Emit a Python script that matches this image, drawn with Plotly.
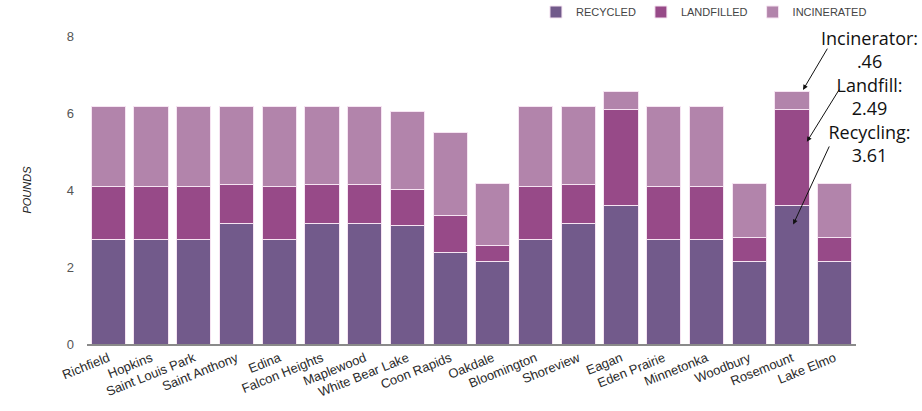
import plotly.graph_objects as go

# Municipal waste per resident per day, split by destination
cities = ["Richfield", "Hopkins", "Saint Louis Park", "Saint Anthony", "Edina",
          "Falcon Heights", "Maplewood", "White Bear Lake", "Coon Rapids", "Oakdale",
          "Bloomington", "Shoreview", "Eagan", "Eden Prairie", "Minnetonka",
          "Woodbury", "Rosemount", "Lake Elmo"]
recycled = [2.72, 2.72, 2.72, 3.13, 2.72, 3.13, 3.13, 3.08, 2.38, 2.14,
            2.72, 3.13, 3.61, 2.72, 2.72, 2.14, 3.61, 2.14]
landfilled = [1.37, 1.37, 1.37, 1.01, 1.37, 1.01, 1.01, 0.94, 0.95, 0.42,
              1.37, 1.01, 2.49, 1.37, 1.37, 0.63, 2.49, 0.63]
incinerated = [2.09, 2.09, 2.09, 2.04, 2.09, 2.04, 2.04, 2.03, 2.16, 1.60,
               2.09, 2.04, 0.46, 2.09, 2.09, 1.39, 0.46, 1.39]

y_ticks = [0, 2, 4, 6, 8]

# Callout for one city
callout_city = "Rosemount"
ci = cities.index(callout_city)
callout = [
    ("Incinerator:", incinerated[ci], recycled[ci] + landfilled[ci] + incinerated[ci] + 0.04),
    ("Landfill:", landfilled[ci], recycled[ci] + landfilled[ci] * 0.66),
    ("Recycling:", recycled[ci], recycled[ci] * 0.86),
]

colors = {"RECYCLED": "#725A8B", "LANDFILLED": "#974A88", "INCINERATED": "#B284AB"}
series = [("RECYCLED", recycled), ("LANDFILLED", landfilled), ("INCINERATED", incinerated)]

BASE_FONT = "Arial, 'Liberation Sans', sans-serif"
NOTE_FONT = "'Open Sans', 'Noto Sans', sans-serif"

fig = go.Figure()
for name, vals in series:
    fig.add_trace(go.Bar(
        x=cities, y=vals, name=name,
        marker=dict(color=colors[name], line=dict(color="#F6E4F2", width=1)),
    ))

fig.update_layout(
    barmode="stack",
    bargap=0.2,
    width=922, height=411,
    margin=dict(l=87, r=66, t=36, b=67, autoexpand=False),
    plot_bgcolor="white", paper_bgcolor="white",
    font=dict(family=BASE_FONT, color="#333"),
    showlegend=True,
    legend=dict(
        orientation="h", xref="container", yref="container",
        x=0.5813, xanchor="left", y=0.9708, yanchor="middle",
        font=dict(size=11, color="#444"), traceorder="normal",
        bgcolor="rgba(0,0,0,0)",
    ),
)

fig.update_xaxes(
    range=[-0.5, len(cities) - 0.5],
    showline=True, linecolor="#8a8a8a", linewidth=1.5,
    showgrid=False, ticks="", tickangle=-22,
    tickfont=dict(size=13, color="#2a2a2a"),
)
fig.update_yaxes(
    range=[0, 8], tickvals=y_ticks, showgrid=False, zeroline=False, showline=False,
    tickfont=dict(size=13, color="#555"), ticklabelstandoff=12,
    title=dict(text="<i>POUNDS</i>", font=dict(size=11, color="#222"), standoff=32),
)

# Callout text block, right of the plot area
note_lines = []
for label, value, _ in callout:
    value_txt = f"{value:.2f}".lstrip("0") if value < 1 else f"{value:.2f}"
    note_lines += [label, value_txt]
fig.add_annotation(
    x=1.018, y=0.8036, xref="paper", yref="paper", text="<br>".join(note_lines),
    showarrow=False, align="center", xanchor="center", yanchor="middle",
    font=dict(family=NOTE_FONT, size=18, color="#111"),
)

# Arrows from each label down to its segment
tail_pos = [(16.85, 7.71), (17.13, 6.65), (16.89, 5.17)]
head_dx = [0.26, 0.35, 0.03]
for (_, _, head_y), (ax, ay), dx in zip(callout, tail_pos, head_dx):
    fig.add_annotation(
        x=ci + dx, y=head_y, xref="x", yref="y",
        ax=ax, ay=ay, axref="x", ayref="y", text="",
        showarrow=True, arrowhead=2, arrowsize=1, arrowwidth=1, arrowcolor="#111",
    )

fig.write_html("out.html")
